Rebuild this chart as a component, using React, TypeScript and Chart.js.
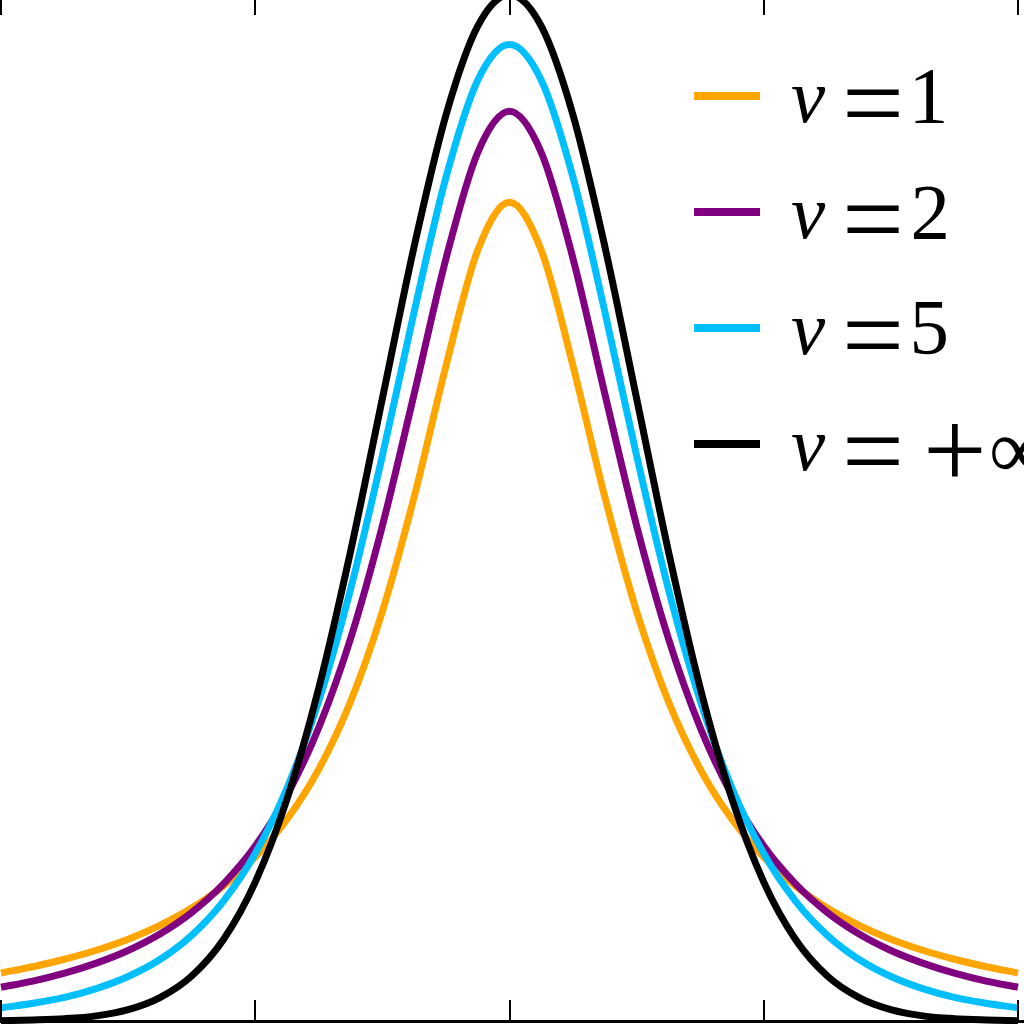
import React, { useEffect, useRef } from "react";
import { Chart, registerables } from "chart.js";

Chart.register(...registerables);

// x positions (standardised variable)
const xValues = [
  -4, -3.75, -3.5, -3.25, -3, -2.75, -2.5, -2.25, -2, -1.75, -1.5, -1.25, -1, -0.75, -0.5, -0.25,
  0, 0.25, 0.5, 0.75, 1, 1.25, 1.5, 1.75, 2, 2.25, 2.5, 2.75, 3, 3.25, 3.5, 3.75, 4,
];

// density values
const nu1 = [
  0.0187, 0.0211, 0.024, 0.0275, 0.0318, 0.0372, 0.0439, 0.0525, 0.0637, 0.0784, 0.0979, 0.1242, 0.1592, 0.2037, 0.2546, 0.2996,
  0.3183, 0.2996, 0.2546, 0.2037, 0.1592, 0.1242, 0.0979, 0.0784, 0.0637, 0.0525, 0.0439, 0.0372, 0.0318, 0.0275, 0.024, 0.0211, 0.0187,
];
const nu2 = [
  0.0131, 0.0155, 0.0186, 0.0225, 0.0274, 0.0338, 0.0422, 0.0533, 0.068, 0.0878, 0.1141, 0.1487, 0.1925, 0.2438, 0.2963, 0.3376,
  0.3536, 0.3376, 0.2963, 0.2438, 0.1925, 0.1487, 0.1141, 0.0878, 0.068, 0.0533, 0.0422, 0.0338, 0.0274, 0.0225, 0.0186, 0.0155, 0.0131,
];
const nu5 = [
  0.0051, 0.0069, 0.0092, 0.0126, 0.0173, 0.0239, 0.0333, 0.0466, 0.0651, 0.0905, 0.1245, 0.1679, 0.2197, 0.2757, 0.3279, 0.3657,
  0.3796, 0.3657, 0.3279, 0.2757, 0.2197, 0.1679, 0.1245, 0.0905, 0.0651, 0.0466, 0.0333, 0.0239, 0.0173, 0.0126, 0.0092, 0.0069, 0.0051,
];
const nuInf = [
  0.0001, 0.0004, 0.0009, 0.002, 0.0044, 0.0091, 0.0175, 0.0317, 0.054, 0.0863, 0.1295, 0.1826, 0.242, 0.3011, 0.3521, 0.3867,
  0.3989, 0.3867, 0.3521, 0.3011, 0.242, 0.1826, 0.1295, 0.0863, 0.054, 0.0317, 0.0175, 0.0091, 0.0044, 0.002, 0.0009, 0.0004, 0.0001,
];

const seriesLabels = ["ν=1", "ν=2", "ν=5", "ν=+∞"];
const seriesColors = ["#FFA500", "#800080", "#00BFFF", "#000000"];
const seriesValues = [nu1, nu2, nu5, nuInf];
const xTicks = [-4, -2, 0, 2, 4];
const xMin = -4;
const xMax = 4;
const yMin = 0;
const yMax = 0.4;

const CANVAS_W = 1024;
const CANVAS_H = 1032;
const SHIFT_Y = 8; // canvas is shifted up so the plot frame top lies just above the view

const FAMILY = "'Liberation Serif'";

type InkOpts = { left?: number; cx?: number; bottom?: number; cy?: number; h?: number; w?: number };

function setFont(ctx: CanvasRenderingContext2D, italic: boolean, size: number) {
  ctx.font = `${italic ? "italic " : ""}${Math.round(size)}px ${FAMILY}`;
}

function drawInk(ctx: CanvasRenderingContext2D, text: string, italic: boolean, o: InkOpts) {
  const base = 100;
  setFont(ctx, italic, base);
  let m = ctx.measureText(text);
  let size = base;
  if (o.h) size = (base * o.h) / (m.actualBoundingBoxAscent + m.actualBoundingBoxDescent);
  else if (o.w) size = (base * o.w) / (m.actualBoundingBoxLeft + m.actualBoundingBoxRight);
  setFont(ctx, italic, size);
  m = ctx.measureText(text);
  const inkL = -m.actualBoundingBoxLeft;
  const inkR = m.actualBoundingBoxRight;
  const inkT = -m.actualBoundingBoxAscent;
  const inkB = m.actualBoundingBoxDescent;
  const x = o.left !== undefined ? o.left - inkL : (o.cx as number) - (inkL + inkR) / 2;
  const y = o.bottom !== undefined ? o.bottom - inkB : (o.cy as number) - (inkT + inkB) / 2;
  ctx.fillText(text, x, y);
}

const frameTicksPlugin = {
  id: "frameTicks",
  afterDatasetsDraw(chart: any) {
    const { ctx, chartArea } = chart;
    const xs = chart.scales.x;
    ctx.save();
    ctx.strokeStyle = "#000";
    ctx.lineWidth = 2;
    ctx.lineCap = "butt";
    for (const v of xTicks) {
      const px = Math.round(xs.getPixelForValue(v));
      ctx.beginPath();
      ctx.moveTo(px, chartArea.top);
      ctx.lineTo(px, chartArea.top + 23);
      ctx.moveTo(px, chartArea.bottom);
      ctx.lineTo(px, chartArea.bottom - 21);
      ctx.stroke();
    }
    ctx.lineWidth = 3;
    ctx.beginPath();
    ctx.moveTo(0, chartArea.bottom + 0.5);
    ctx.lineTo(chart.width, chartArea.bottom + 0.5);
    ctx.stroke();
    ctx.restore();
  },
};

const mathLegendPlugin = {
  id: "mathLegend",
  afterDraw(chart: any) {
    const ctx: CanvasRenderingContext2D = chart.ctx;
    ctx.save();
    ctx.translate(0, SHIFT_Y);
    ctx.textAlign = "left";
    ctx.textBaseline = "alphabetic";
    const datasets = chart.data.datasets;
    datasets.forEach((ds: any, i: number) => {
      const segY = 96 + 116 * i;
      const baseline = segY + 26.5;
      ctx.strokeStyle = ds.borderColor;
      ctx.lineWidth = 8;
      ctx.lineCap = "butt";
      ctx.beginPath();
      ctx.moveTo(694, segY);
      ctx.lineTo(760, segY);
      ctx.stroke();

      ctx.fillStyle = "#000";
      const [sym, val] = String(ds.label).split("=");
      drawInk(ctx, sym, true, { left: 792, bottom: baseline, h: 36 });
      drawInk(ctx, "=", false, { left: 847, cy: baseline - 20, w: 53 });
      if (val.startsWith("+")) {
        drawInk(ctx, "+", false, { left: 928, cy: baseline - 20, w: 54 });
        drawInk(ctx, val.slice(1), false, { left: 992, cy: baseline - 17, h: 34 });
      } else {
        drawInk(ctx, val, false, { cx: 930, bottom: baseline, h: 53 });
      }
    });
    ctx.restore();
  },
};

export default function App() {
  const canvasRef = useRef<HTMLCanvasElement | null>(null);

  useEffect(() => {
    const canvas = canvasRef.current;
    if (!canvas) return;
    const datasets = seriesValues.map((vals, i) => ({
      label: seriesLabels[i],
      data: xValues.map((x, j) => ({ x, y: vals[j] })),
      borderColor: seriesColors[i],
      backgroundColor: seriesColors[i],
      borderWidth: 7,
      pointRadius: 0,
      pointHoverRadius: 0,
      fill: false,
      cubicInterpolationMode: "monotone" as const,
      clip: false as any,
      order: seriesValues.length - i,
    }));
    const chart = new Chart(canvas, {
      type: "line",
      data: { datasets },
      options: {
        animation: false,
        responsive: false,
        devicePixelRatio: 1,
        events: [],
        layout: { padding: { left: 1, right: 6, top: 0, bottom: 3 } },
        plugins: {
          legend: { display: false },
          tooltip: { enabled: false },
          title: { display: false },
        },
        scales: {
          x: { type: "linear", min: xMin, max: xMax, display: false },
          y: { type: "linear", min: yMin, max: yMax, display: false },
        },
      },
      plugins: [frameTicksPlugin, mathLegendPlugin],
    });
    return () => chart.destroy();
  }, []);

  return (
    <div
      style={{
        position: "fixed",
        left: 0,
        top: 0,
        width: CANVAS_W,
        height: 1024,
        overflow: "hidden",
        background: "#fff",
      }}
    >
      <canvas
        ref={canvasRef}
        width={CANVAS_W}
        height={CANVAS_H}
        style={{ position: "absolute", left: 0, top: -SHIFT_Y, width: CANVAS_W, height: CANVAS_H }}
      />
    </div>
  );
}
